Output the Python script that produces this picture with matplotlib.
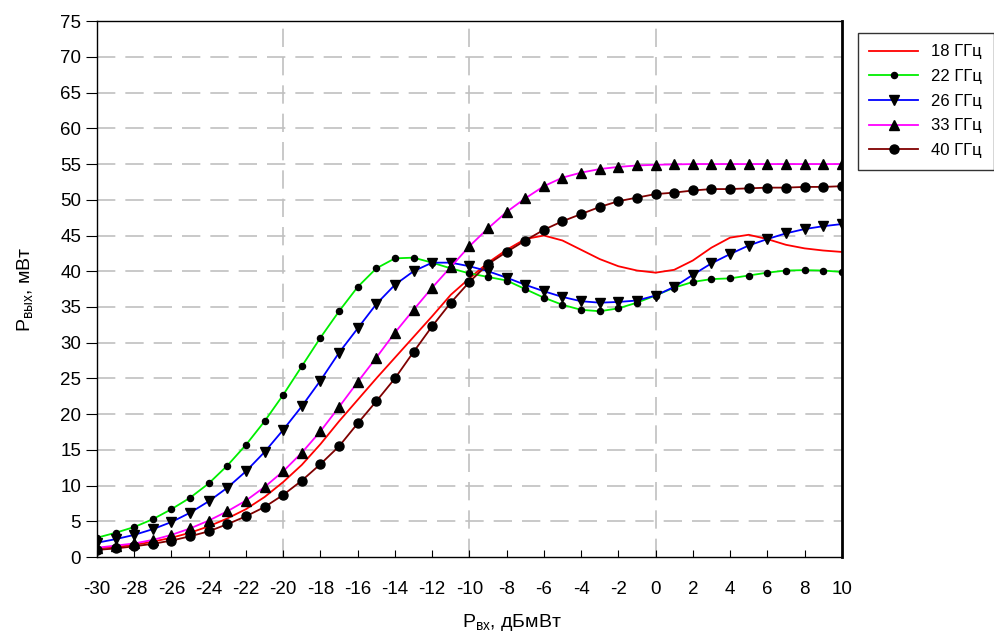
import numpy as np
import matplotlib
matplotlib.use('Agg')
import matplotlib.pyplot as plt

plt.rcParams['font.family'] = ['Liberation Sans', 'DejaVu Sans']
plt.rcParams['mathtext.fontset'] = 'custom'
plt.rcParams['mathtext.rm'] = 'Liberation Sans'
plt.rcParams['mathtext.it'] = 'Liberation Sans'
plt.rcParams['axes.unicode_minus'] = False

# input power, dBm
p_in = list(range(-30, 11))

# output power, mW
f18 = [1.2, 1.4, 1.7, 2.15, 2.7, 3.4, 4.3, 5.4, 6.7, 8.4,
       10.5, 12.9, 15.8, 19.0, 22.0, 25.0, 27.9, 30.8, 33.7, 36.7,
       39.0, 41.2, 43.0, 44.5, 45.0, 44.3, 43.0, 41.7, 40.7, 40.1,
       39.8, 40.2, 41.5, 43.3, 44.7, 45.1, 44.5, 43.7, 43.2, 42.9, 42.7]
f22 = [2.7, 3.4, 4.2, 5.3, 6.7, 8.3, 10.3, 12.8, 15.7, 19.0,
       22.7, 26.7, 30.7, 34.4, 37.8, 40.4, 41.8, 41.9, 41.2, 40.4,
       39.7, 39.2, 38.7, 37.5, 36.3, 35.3, 34.6, 34.4, 34.8, 35.6,
       36.6, 37.7, 38.5, 38.9, 39.0, 39.4, 39.8, 40.1, 40.15, 40.1, 39.9]
f26 = [2.0, 2.5, 3.1, 3.9, 4.9, 6.2, 7.8, 9.7, 12.0, 14.7,
       17.8, 21.1, 24.7, 28.6, 32.0, 35.4, 38.1, 40.0, 41.2, 41.2,
       40.7, 40.0, 39.1, 38.1, 37.2, 36.4, 35.8, 35.6, 35.7, 35.9,
       36.6, 37.8, 39.5, 41.1, 42.4, 43.6, 44.5, 45.3, 45.9, 46.3, 46.6]
f33 = [1.3, 1.6, 1.9, 2.4, 3.1, 4.0, 5.1, 6.4, 7.9, 9.8,
       12.0, 14.6, 17.6, 21.0, 24.5, 27.9, 31.4, 34.6, 37.7, 40.6,
       43.5, 46.0, 48.3, 50.2, 51.9, 53.1, 53.8, 54.3, 54.6, 54.8,
       54.9, 54.95, 55.0, 55.0, 55.0, 55.0, 55.0, 55.0, 55.0, 55.0, 55.0]
f40 = [1.0, 1.2, 1.5, 1.85, 2.3, 2.9, 3.6, 4.6, 5.7, 7.0,
       8.7, 10.7, 13.0, 15.5, 18.7, 21.8, 25.0, 28.7, 32.3, 35.6,
       38.5, 41.0, 42.7, 44.3, 45.8, 47.0, 48.0, 49.0, 49.8, 50.3,
       50.8, 51.0, 51.3, 51.5, 51.5, 51.6, 51.7, 51.7, 51.8, 51.8, 51.9]

labels = ['18 ГГц', '22 ГГц', '26 ГГц', '33 ГГц', '40 ГГц']

fig = plt.figure(figsize=(9.95, 6.41), dpi=100)
ax = fig.add_axes([0.0975, 0.131, 0.7485, 0.836])

dash = (0, (11, 6))
for yv in range(5, 75, 5):
    ax.axhline(yv, color='#c0c0c0', lw=1.2, ls=dash, zorder=0)
for xv in [-20, -10, 0]:
    ax.axvline(xv, color='#c0c0c0', lw=1.2, ls=dash, zorder=0)

ax.plot(p_in, f18, color='#ff0000', lw=1.3, label=labels[0])
ax.plot(p_in, f22, color='#00ee00', lw=1.3, marker='o', ms=4.4,
        mfc='black', mec='black', label=labels[1])
ax.plot(p_in, f26, color='#0000ff', lw=1.3, marker='v', ms=6.5,
        mfc='black', mec='black', label=labels[2])
ax.plot(p_in, f33, color='#ff00ff', lw=1.3, marker='^', ms=7,
        mfc='black', mec='black', label=labels[3])
ax.plot(p_in, f40, color='#800000', lw=1.3, marker='o', ms=6.5,
        mfc='black', mec='black', label=labels[4])

ax.set_xlim(-30, 10)
ax.set_ylim(0, 75)
ax.set_xticks(range(-30, 11, 2))
ax.set_yticks(range(0, 76, 5))
ax.tick_params(axis='x', direction='in', length=5, labelsize=13.5, pad=17)
ax.tick_params(axis='y', direction='out', length=8, labelsize=13.5)
for s in ax.spines.values():
    s.set_linewidth(1.0)
ax.spines['right'].set_linewidth(2.0)

ax.set_xlabel(r'$\mathrm{P_{вх}}$, дБмВт', fontsize=14)
ax.xaxis.set_label_coords(0.557, -0.103)
ax.set_ylabel(r'$\mathrm{P_{вых}}$, мВт', fontsize=14, labelpad=18)

leg = fig.legend(loc='upper left', bbox_to_anchor=(0.862, 0.949),
                 fontsize=12, frameon=True, fancybox=False,
                 borderaxespad=0, handlelength=2.9, handletextpad=0.8,
                 borderpad=0.7, labelspacing=0.58)
leg.get_frame().set_edgecolor('black')
leg.get_frame().set_linewidth(1.0)

fig.savefig('out.png', dpi=100)
plt.close()
